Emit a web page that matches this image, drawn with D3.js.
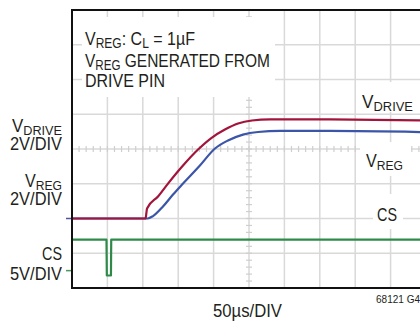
<!DOCTYPE html>
<html>
<head>
<meta charset="utf-8">
<script src="https://cdn.jsdelivr.net/npm/d3@7"></script>
<style>
  body { margin: 0; background: #fff; }
  svg text { font-family: "Liberation Sans", Arial, sans-serif; fill: #231f20; }
</style>
</head>
<body>
<div id="scope"></div>
<script>
// LTC6812-1 style scope shot: DRIVE / VREG / CS start-up

// time in µs, values in volts
const driveT = [0, 104, 105, 106, 121.5, 135.6, 156.8, 178, 197.7, 216, 234.5, 254, 280, 364, 500];
const driveV = [0, 0, 0.3, 0.58, 1.27, 2.01, 3.05, 3.97, 4.66, 5.12, 5.47, 5.64, 5.70, 5.70, 5.65];
const regT = [0, 107, 114.4, 128.5, 142.7, 156.8, 179.4, 202, 220.3, 241.5, 262.7, 294, 364, 500];
const regV = [0, 0, 0.14, 0.69, 1.38, 2.01, 2.99, 4.03, 4.49, 4.83, 4.98, 5.04, 5.04, 4.97];
const csT = [0, 48.7, 49.2, 55.0, 55.4, 500];
const csV = [4.45, 4.45, -0.7, -0.7, 4.45, 4.45];

const timeDivs = d3.range(0, 501, 50);   // 50µs/DIV
const voltDivs = d3.range(-4, 5, 1);

const width = 420;
const height = 322;

const svg = d3.select("#scope")
    .append("svg")
    .attr("width", width)
    .attr("height", height);

const x = d3.scaleLinear().domain([0, 500]).range([72, 426]);
const y = d3.scaleLinear().domain([-4, 4]).range([288, 10]);

// grid
const grid = svg.append("g").attr("stroke", "#d9d9d9").attr("stroke-width", 1.5);
grid.selectAll(".v").data(timeDivs).enter().append("line")
    .attr("x1", d => x(d)).attr("x2", d => x(d))
    .attr("y1", y(4)).attr("y2", y(-4));
grid.selectAll(".h").data(voltDivs).enter().append("line")
    .attr("x1", x(0)).attr("x2", x(500))
    .attr("y1", d => y(d)).attr("y2", d => y(d));

// minor ticks on the centre lines
const ticks = svg.append("g").attr("stroke", "#cfcfcf").attr("stroke-width", 1.2);
ticks.selectAll(".tx").data(d3.range(0, 501, 10)).enter().append("line")
    .attr("x1", d => x(d)).attr("x2", d => x(d))
    .attr("y1", y(0) - 3).attr("y2", y(0) + 3);
ticks.selectAll(".ty").data(d3.range(-40, 41, 2).map(d => d / 10)).enter().append("line")
    .attr("x1", x(250) - 3).attr("x2", x(250) + 3)
    .attr("y1", d => y(d)).attr("y2", d => y(d));

// white boxes behind the texts
const boxes = [[82, 17, 193, 80], [357, 82, 63, 30], [360, 142, 51, 34], [373, 194, 30, 35]];
svg.selectAll(".box").data(boxes).enter().append("rect")
    .attr("x", d => d[0]).attr("y", d => d[1])
    .attr("width", d => d[2]).attr("height", d => d[3])
    .attr("fill", "#fff");

// traces
function trace(ts, vs, offset, perDiv, color, curve) {
    const line = d3.line()
        .x(d => x(d[0]))
        .y(d => y(offset + d[1] / perDiv))
        .curve(curve);
    svg.append("path")
        .datum(d3.zip(ts, vs))
        .attr("d", line)
        .attr("fill", "none")
        .attr("stroke", color)
        .attr("stroke-width", 2.2)
        .attr("stroke-linejoin", "round");
}
trace(csT, csV, -3.5, 5, "#2f8a4a", d3.curveLinear);
trace(regT, regV, -2, 2, "#3b55a8", d3.curveMonotoneX);
trace(driveT, driveV, -2, 2, "#a3143c", d3.curveMonotoneX);

// ground markers
svg.append("line").attr("x1", 66).attr("x2", 72).attr("y1", y(-2)).attr("y2", y(-2))
    .attr("stroke", "#55529e").attr("stroke-width", 1.5);
svg.append("line").attr("x1", 66).attr("x2", 72).attr("y1", y(-3.5)).attr("y2", y(-3.5))
    .attr("stroke", "#4a9a5a").attr("stroke-width", 1.5);

// frame
svg.append("path")
    .attr("d", `M${x(500)},${y(4)}H${x(0)}V${y(-4)}H${x(500)}`)
    .attr("fill", "none")
    .attr("stroke", "#111")
    .attr("stroke-width", 2);

// condensed labels: parts are [text, isSub]
function label(px, py, parts, w, anchor, size) {
    const t = svg.append("text").attr("font-size", size);
    let shifted = 0;
    parts.forEach(p => {
        const s = t.append("tspan").text(p[0]);
        const sub = p[1] ? 3 : 0;
        if (p[1]) s.attr("font-size", size * 0.75);
        s.attr("dy", sub - shifted);   // drop for subscripts, back up after
        shifted = sub;
    });
    const len = t.node().getComputedTextLength();
    const x0 = anchor === "end" ? px - w : px;
    t.attr("transform", `translate(${x0},${py}) scale(${w / len},1)`);
}

// note box
label(85, 45, [["V"], ["REG", 1], [": C"], ["L", 1], [" = 1µF"]], 110, "start", 18.5);
label(85, 66.7, [["V"], ["REG", 1], [" GENERATED FROM"]], 185, "start", 18.5);
label(85, 86.7, [["DRIVE PIN"]], 80, "start", 18.5);

// left channel labels
label(62, 132, [["V"], ["DRIVE", 1]], 50, "end", 18);
label(62, 150, [["2V/DIV"]], 52, "end", 18);
label(62, 187, [["V"], ["REG", 1]], 37, "end", 18);
label(62, 205, [["2V/DIV"]], 52, "end", 18);
label(62, 260, [["CS"]], 20, "end", 18);
label(62, 280, [["5V/DIV"]], 52, "end", 18);

// right trace labels
label(362, 108, [["V"], ["DRIVE", 1]], 51, "start", 18);
label(366, 167, [["V"], ["REG", 1]], 37, "start", 18);
label(377, 221, [["CS"]], 20, "start", 18);

// time base and figure id
label(213, 317, [["50µs/DIV"]], 69, "start", 19);
svg.append("text")
    .attr("x", 420).attr("y", 303)
    .attr("text-anchor", "end")
    .attr("font-size", 10)
    .attr("fill", "#444")
    .text("68121 G4");
</script>
</body>
</html>
